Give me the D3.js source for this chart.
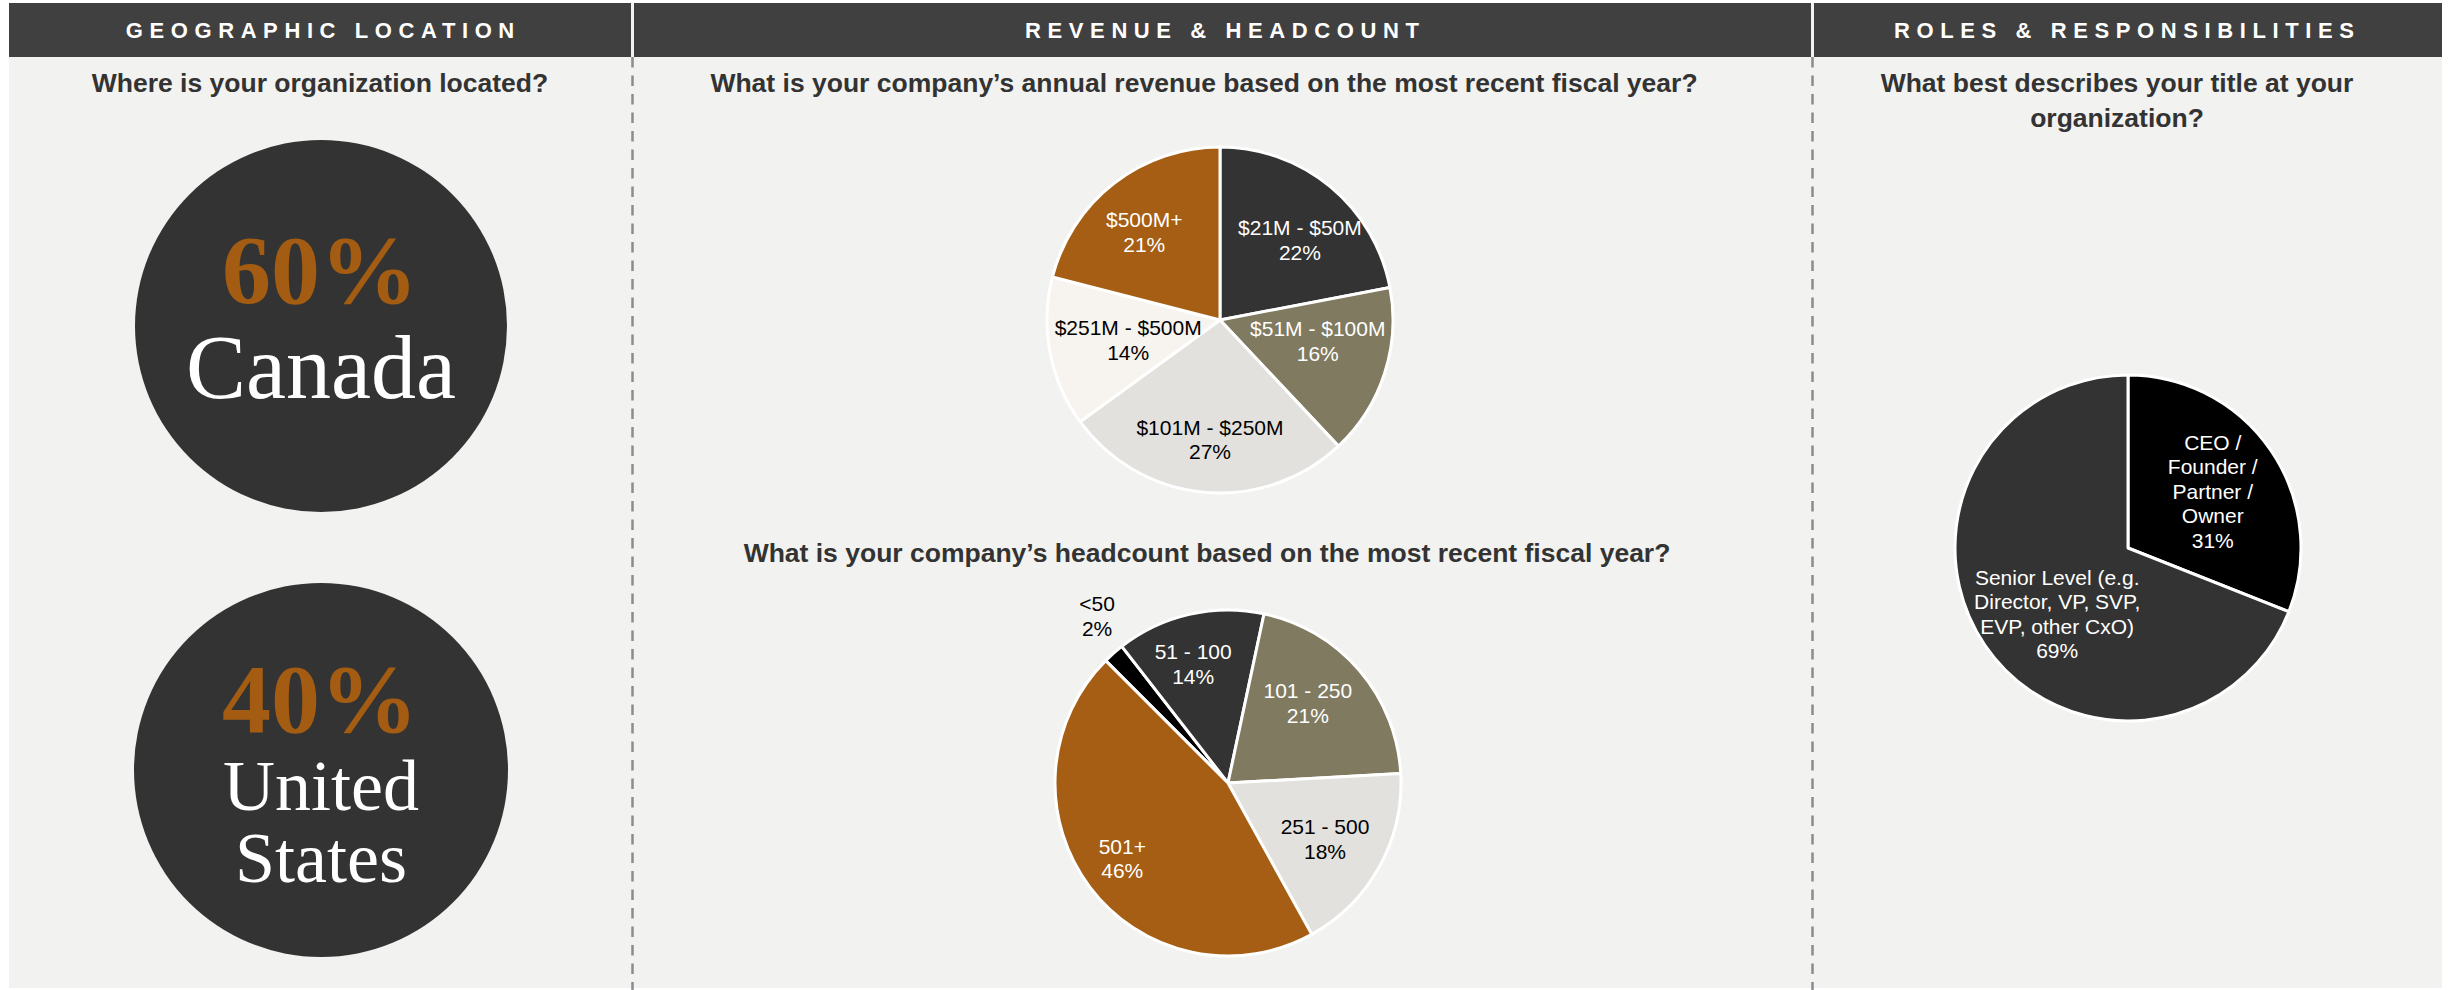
<!DOCTYPE html>
<html>
<head>
<meta charset="utf-8">
<script src="https://cdn.jsdelivr.net/npm/d3@7"></script>
<style>
  html, body { margin: 0; padding: 0; background: #ffffff; }
  svg { display: block; }
</style>
</head>
<body>
<svg id="board" width="2450" height="990"></svg>
<script>
// ---- Survey content ----
const sectionTitles = ["GEOGRAPHIC LOCATION", "REVENUE & HEADCOUNT", "ROLES & RESPONSIBILITIES"];

const locationQuestion = ["Where is your organization located?"];
const locationNames = [["Canada"], ["United", "States"]];
const locationShares = [60, 40];

const revenueQuestion = ["What is your company\u2019s annual revenue based on the most recent fiscal year?"];
const revenueBands = ["$21M - $50M", "$51M - $100M", "$101M - $250M", "$251M - $500M", "$500M+"];
const revenueShares = [22, 16, 27, 14, 21];

const headcountQuestion = ["What is your company\u2019s headcount based on the most recent fiscal year?"];
const headcountBands = ["<50", "51 - 100", "101 - 250", "251 - 500", "501+"];
const headcountShares = [2, 14, 21, 18, 46];

const roleQuestion = ["What best describes your title at your", "organization?"];
const roleTitles = ["CEO /\nFounder /\nPartner /\nOwner", "Senior Level (e.g.\nDirector, VP, SVP,\nEVP, other CxO)"];
const roleShares = [31, 69];

// ---- Palette ----
const DARK = "#333333", OLIVE = "#807a60", STONE = "#e2e1dd", CREAM = "#f7f3ee",
      COPPER = "#a55e13", BLACK = "#000000";
const revenueColors = [DARK, OLIVE, STONE, CREAM, COPPER];
const headcountColors = [BLACK, DARK, OLIVE, STONE, COPPER];
const roleColors = [BLACK, DARK];
const lightFills = new Set([STONE, CREAM]);

const SANS = "'Liberation Sans', Arial, Helvetica, sans-serif";
const SERIF = "'Liberation Serif', 'Times New Roman', serif";

const svg = d3.select("#board");

// ---- Panel background and header band ----
svg.append("rect").attr("x", 9).attr("y", 3).attr("width", 2433).attr("height", 985).attr("fill", "#f2f2f0");

const sections = [
  { x0: 9, x1: 631, tx: 320 },
  { x0: 634, x1: 1811, tx: 1222 },
  { x0: 1814, x1: 2442, tx: 2124 }
];
const header = svg.append("g");
header.selectAll("rect").data(sections).join("rect")
  .attr("x", d => d.x0).attr("y", 3)
  .attr("width", d => d.x1 - d.x0).attr("height", 54)
  .attr("fill", "#404040");
const SPACING = 6.6;
header.selectAll("text").data(sectionTitles).join("text")
  .attr("x", (d, i) => sections[i].tx + SPACING / 2)
  .attr("y", 38)
  .attr("text-anchor", "middle")
  .attr("font-family", SANS).attr("font-weight", "bold").attr("font-size", 22)
  .attr("letter-spacing", SPACING)
  .attr("fill", "#ffffff")
  .text(d => d);

// Dashed dividers between panels
svg.selectAll("line.divider").data([632.5, 1812.5]).join("line")
  .attr("class", "divider")
  .attr("x1", d => d).attr("x2", d => d)
  .attr("y1", 57).attr("y2", 990)
  .attr("stroke", "#8c8c8c").attr("stroke-width", 2.5)
  .attr("stroke-dasharray", "10.5 8");

// ---- Question headings ----
function question(lines, cx, baseline, lineHeight) {
  svg.append("g").selectAll("text").data(lines).join("text")
    .attr("x", cx).attr("y", (d, i) => baseline + i * lineHeight)
    .attr("text-anchor", "middle")
    .attr("font-family", SANS).attr("font-weight", "bold").attr("font-size", 26.5)
    .attr("fill", "#333333")
    .text(d => d);
}
question(locationQuestion, 320, 92, 34);
question(revenueQuestion, 1204, 92, 34);
question(headcountQuestion, 1207, 562, 34);
question(roleQuestion, 2117, 92, 35);

// ---- Geographic location badges ----
const badges = [
  { cy: 326, r: 186, pctY: 303, nameY: 398, nameSize: 90, nameStep: 0 },
  { cy: 770, r: 187, pctY: 732, nameY: 810, nameSize: 72, nameStep: 72 }
];
const geo = svg.append("g").selectAll("g").data(locationShares).join("g");
geo.append("circle")
  .attr("cx", 321).attr("cy", (d, i) => badges[i].cy).attr("r", (d, i) => badges[i].r)
  .attr("fill", DARK);
geo.append("text")
  .attr("x", 320).attr("y", (d, i) => badges[i].pctY)
  .attr("text-anchor", "middle")
  .attr("font-family", SERIF).attr("font-weight", "bold").attr("font-size", 98)
  .attr("fill", "#a35c12")
  .text(d => d + "%");
geo.append("text")
  .attr("text-anchor", "middle")
  .attr("font-family", SERIF).attr("font-size", (d, i) => badges[i].nameSize)
  .attr("fill", "#ffffff")
  .each(function(d, i) {
    d3.select(this).selectAll("tspan").data(locationNames[i]).join("tspan")
      .attr("x", 321)
      .attr("y", (t, j) => badges[i].nameY + j * badges[i].nameStep)
      .text(t => t);
  });

// ---- Pie charts ----
// labelSpots: [distance from centre, angular nudge in degrees from the slice middle]
function pieChart({ cx, cy, radius, startDeg, labels, values, colors, labelSpots }) {
  const start = startDeg * Math.PI / 180;
  const pie = d3.pie().sort(null).value(d => d).startAngle(start).endAngle(start + 2 * Math.PI);
  const arcs = pie(values);
  const arc = d3.arc().innerRadius(0).outerRadius(radius);
  const g = svg.append("g").attr("transform", `translate(${cx},${cy})`);

  g.selectAll("path").data(arcs).join("path")
    .attr("d", arc)
    .attr("fill", (d, i) => colors[i])
    .attr("stroke", "#ffffff").attr("stroke-width", 3).attr("stroke-linejoin", "round");

  const fontSize = 21, lineHeight = 24.5;
  arcs.forEach((d, i) => {
    const [lr, nudge] = labelSpots[i];
    const a = (d.startAngle + d.endAngle) / 2 + nudge * Math.PI / 180;
    const lx = lr * Math.sin(a), ly = -lr * Math.cos(a);
    const lines = labels[i].split("\n").concat([values[i] + "%"]);
    const outside = lr > radius;
    const fill = outside || lightFills.has(colors[i]) ? "#000000" : "#ffffff";
    const top = ly - (lines.length - 1) * lineHeight / 2 + fontSize * 0.35;
    const t = g.append("text")
      .attr("text-anchor", "middle")
      .attr("font-family", SANS).attr("font-size", fontSize)
      .attr("fill", fill);
    t.selectAll("tspan").data(lines).join("tspan")
      .attr("x", lx).attr("y", (s, j) => top + j * lineHeight)
      .text(s => s);
  });
}

pieChart({
  cx: 1220, cy: 320, radius: 173, startDeg: 0,
  labels: revenueBands, values: revenueShares, colors: revenueColors,
  labelSpots: [[113, 5.4], [100, -5.9], [120, -0.6], [94, -1.5], [116, -3]]
});

pieChart({
  cx: 1228, cy: 783, radius: 173, startDeg: -45,
  labels: headcountBands, values: headcountShares, colors: headcountColors,
  labelSpots: [[212, 3.3], [124, -3.4], [113, -4.5], [112, 1], [130, 1.4]]
});

pieChart({
  cx: 2128, cy: 548, radius: 173, startDeg: 0,
  labels: roleTitles, values: roleShares, colors: roleColors,
  labelSpots: [[102, 0.4], [97, -8.9]]
});
</script>
</body>
</html>
